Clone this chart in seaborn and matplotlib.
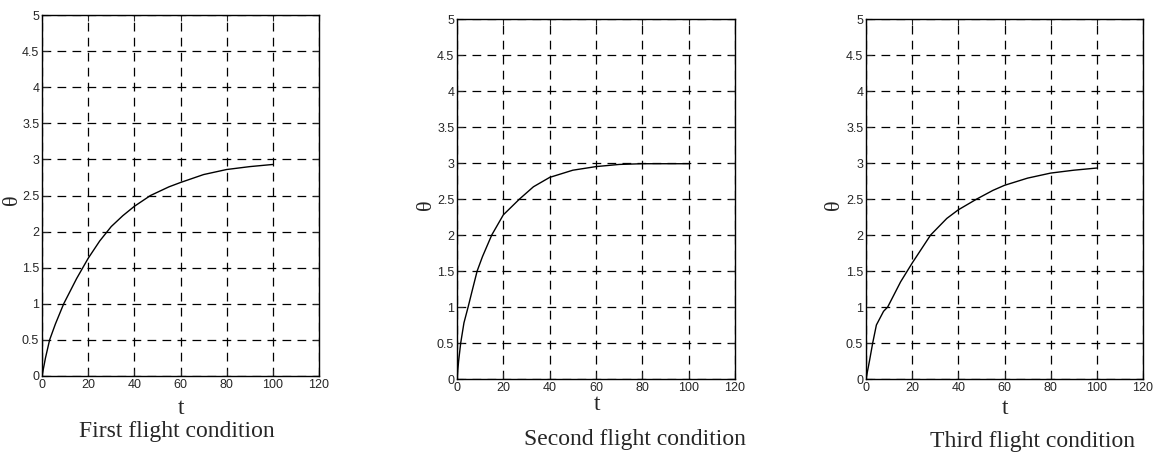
import matplotlib
matplotlib.use("Agg")
import matplotlib.pyplot as plt
import seaborn as sns
import pandas as pd
from matplotlib import font_manager

# values
t_first = [0, 1.5, 3.3, 5.8, 9.4, 15, 20, 25, 30, 35, 40, 47, 55, 60, 70, 80, 90, 100]
theta_first = [0, 0.25, 0.5, 0.72, 1.0, 1.35, 1.63, 1.87, 2.07, 2.22, 2.35, 2.5, 2.62, 2.68, 2.79, 2.86, 2.9, 2.93]

t_second = [0, 0.7, 1.6, 3, 4.8, 6.5, 8.7, 11, 15, 20, 27, 33, 40, 50, 60, 70, 80, 90, 100]
theta_second = [0, 0.25, 0.5, 0.78, 1.0, 1.22, 1.5, 1.7, 2.0, 2.28, 2.5, 2.67, 2.8, 2.9, 2.95, 2.98, 2.99, 2.99, 2.99]

t_third = [0, 1.5, 2.9, 4.5, 7.6, 9.4, 15, 20, 28, 35, 40, 48, 55, 60, 70, 80, 90, 100]
theta_third = [0, 0.25, 0.5, 0.75, 0.94, 1.0, 1.35, 1.61, 2.0, 2.23, 2.35, 2.5, 2.62, 2.69, 2.79, 2.86, 2.9, 2.93]

captions = ["First flight condition", "Second flight condition", "Third flight condition"]
x_ticks = [0, 20, 40, 60, 80, 100, 120]
y_ticks = [0, 0.5, 1, 1.5, 2, 2.5, 3, 3.5, 4, 4.5, 5]
y_ticklabels = ["0", "0.5", "1", "1.5", "2", "2.5", "3", "3.5", "4", "4.5", "5"]

sns.set_style("ticks")
names = {f.name for f in font_manager.fontManager.ttflist}
tick_font = "Liberation Sans Narrow" if "Liberation Sans Narrow" in names else "Liberation Sans"
plt.rcParams["font.family"] = [tick_font, "DejaVu Sans"]

fig = plt.figure(figsize=(11.57, 4.58), dpi=100)
W, H = 1157, 458

# axes boxes in pixels: left, top, right, bottom
boxes = [(42, 15, 319, 376), (457, 19, 735, 379), (866, 19, 1143, 379)]
caption_pos = [(177, 432), (635, 439), (1033, 442)]
xlab_y = [408, 405, 408]
ylab_pos = [(13, 200), (426, 205), (835, 205)]

series = [(t_first, theta_first), (t_second, theta_second), (t_third, theta_third)]

for i, (box, (tt, th)) in enumerate(zip(boxes, series)):
    l, t, r, b = box
    ax = fig.add_axes([l / W, 1 - b / H, (r - l) / W, (b - t) / H])
    df = pd.DataFrame({"t": tt, "theta": th})
    sns.lineplot(data=df, x="t", y="theta", ax=ax, color="black", linewidth=1.0)
    ax.set_xlim(0, 120)
    ax.set_ylim(0, 5)
    ax.set_xticks(x_ticks)
    ax.set_yticks(y_ticks)
    ax.set_yticklabels(y_ticklabels)
    ax.tick_params(direction="in", length=4, width=0.8, labelsize=9,
                   top=True, right=True, pad=2)
    ax.grid(True, color="black", linestyle=(0, (7, 5)), linewidth=0.9)
    for sp in ax.spines.values():
        sp.set_linewidth(1.0)
        sp.set_color("black")
    ax.set_xlabel("")
    ax.set_ylabel("")
    fig.text(((l + r) / 2 + 1) / W, 1 - xlab_y[i] / H, "t", family="Liberation Serif",
             fontsize=17, ha="center", va="center")
    fig.text(ylab_pos[i][0] / W, 1 - ylab_pos[i][1] / H, "\u03b8", family="Liberation Serif",
             fontsize=16, rotation=90, ha="center", va="center")
    fig.text(caption_pos[i][0] / W, 1 - caption_pos[i][1] / H, captions[i],
             family="Liberation Serif", fontsize=17, ha="center", va="center")

fig.savefig("out.png", dpi=100, facecolor="white")
